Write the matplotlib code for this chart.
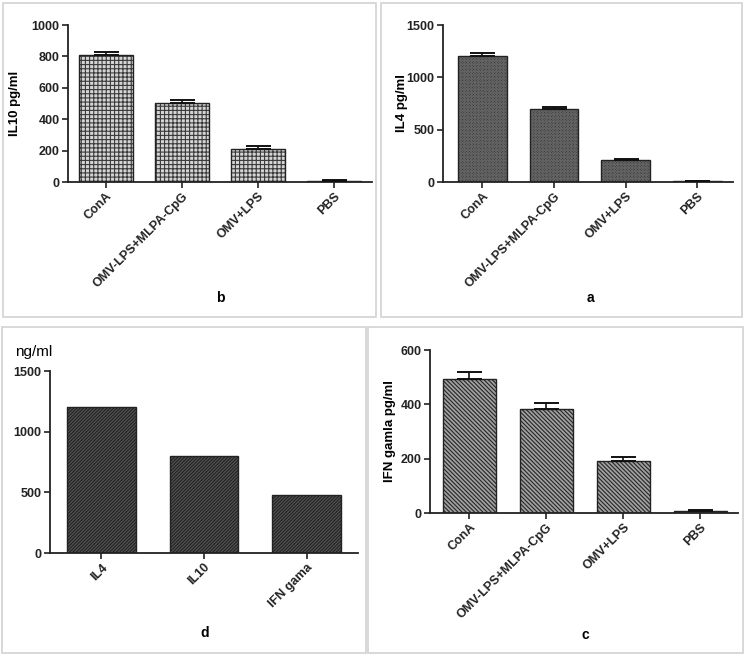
import matplotlib
matplotlib.use("Agg")
import matplotlib.pyplot as plt
from matplotlib.patches import Rectangle

plt.rcParams['font.family'] = ['Liberation Sans', 'DejaVu Sans']
plt.rcParams['hatch.linewidth'] = 0.8

groups = ["ConA", "OMV-LPS+MLPA-CpG", "OMV+LPS", "PBS"]
il10_vals = [810, 505, 208, 5]
il10_err = [20, 17, 20, 6]
il4_vals = [1200, 697, 208, 6]
il4_err = [32, 22, 15, 8]
ifn_vals = [493, 384, 190, 9]
ifn_err = [25, 20, 16, 3]
cyt_names = ["IL4", "IL10", "IFN gama"]
cyt_vals = [1200, 800, 480]

W, H = 746, 658
fig = plt.figure(figsize=(W / 100, H / 100), dpi=100)


def px_axes(x0, y0, x1, y1):
    return fig.add_axes([x0 / W, 1 - y1 / H, (x1 - x0) / W, (y1 - y0) / H])


def box(x0, y0, x1, y1):
    fig.patches.append(Rectangle((x0 / W, 1 - y1 / H), (x1 - x0) / W, (y1 - y0) / H,
                                 transform=fig.transFigure, fill=False,
                                 edgecolor='#d2d2d2', linewidth=1.2))


def ftext(x, y, s, **kw):
    fig.text(x / W, 1 - y / H, s, ha='center', va='center', **kw)


box(3, 3, 376, 317)
box(381, 3, 742, 317)
box(2, 327, 366, 653)
box(368, 327, 743, 653)


def style(ax, ylim, yticks, xlim):
    for s in ['top', 'right']:
        ax.spines[s].set_visible(False)
    for s in ['left', 'bottom']:
        ax.spines[s].set_linewidth(1.3)
        ax.spines[s].set_color('#222222')
    ax.set_ylim(*ylim)
    ax.set_yticks(yticks)
    ax.set_xlim(*xlim)
    ax.tick_params(axis='both', direction='out', length=4, width=1.2, colors='#222222',
                   labelsize=9, pad=2)
    for lab in ax.get_yticklabels():
        lab.set_fontweight('bold')


def hatched_bars(ax, x, vals, width, face, hcol, hatch, err=None):
    ax.bar(x, vals, width, color=face, edgecolor=hcol, hatch=hatch, linewidth=0, zorder=2)
    ax.bar(x, vals, width, facecolor='none', edgecolor='#222222', linewidth=1.0, zorder=3)
    if err is not None:
        ax.errorbar(x, vals, yerr=[[0] * len(vals), err], fmt='none', ecolor='#111111',
                    elinewidth=1.2, capsize=9, capthick=1.4, zorder=4)


def xlabels(ax, labels):
    ax.set_xticks(range(len(labels)))
    ax.set_xticklabels(labels, rotation=45, ha='right', rotation_mode='anchor',
                       fontweight='bold', fontsize=9)


xs = list(range(len(groups)))

# Panel b: IL10
axb = px_axes(68, 25, 372, 182)
hatched_bars(axb, xs, il10_vals, 0.7, '#d4d4d4', '#3a3a3a', '++++', il10_err)
style(axb, (0, 1000), [0, 200, 400, 600, 800, 1000], (-0.5, 3.5))
xlabels(axb, groups)
ftext(15, 103, "IL10 pg/ml", fontweight='bold', fontsize=9.5, rotation=90)
ftext(220, 298, "b", fontweight='bold', fontsize=10)

# Panel a: IL4
axa = px_axes(443, 25, 733, 182)
hatched_bars(axa, xs, il4_vals, 0.68, '#2a2a2a', '#626262', 'x' * 12, il4_err)
style(axa, (0, 1500), [0, 500, 1000, 1500], (-0.55, 3.5))
xlabels(axa, groups)
ftext(402, 103, "IL4 pg/ml", fontweight='bold', fontsize=9.5, rotation=90)
ftext(590, 298, "a", fontweight='bold', fontsize=10)

# Panel d: cytokines
axd = px_axes(50, 371, 358, 553)
hatched_bars(axd, list(range(len(cyt_names))), cyt_vals, 0.67, '#242424', '#555555', '/' * 10)
style(axd, (0, 1500), [0, 500, 1000, 1500], (-0.5, 2.5))
xlabels(axd, cyt_names)
fig.text(15 / W, 1 - 352 / H, "ng/ml", fontsize=11, ha='left', va='center')
ftext(205, 633, "d", fontweight='bold', fontsize=10)

# Panel c: IFN gamma
axc = px_axes(430, 350, 738, 513)
hatched_bars(axc, xs, ifn_vals, 0.69, '#a0a0a0', '#262626', '\\' * 8, ifn_err)
style(axc, (0, 600), [0, 200, 400, 600], (-0.51, 3.49))
xlabels(axc, groups)
ftext(390, 431, "IFN gamla pg/ml", fontweight='bold', fontsize=9.5, rotation=90)
ftext(585, 635, "c", fontweight='bold', fontsize=10)

fig.savefig("out.png", dpi=100, facecolor='white')
